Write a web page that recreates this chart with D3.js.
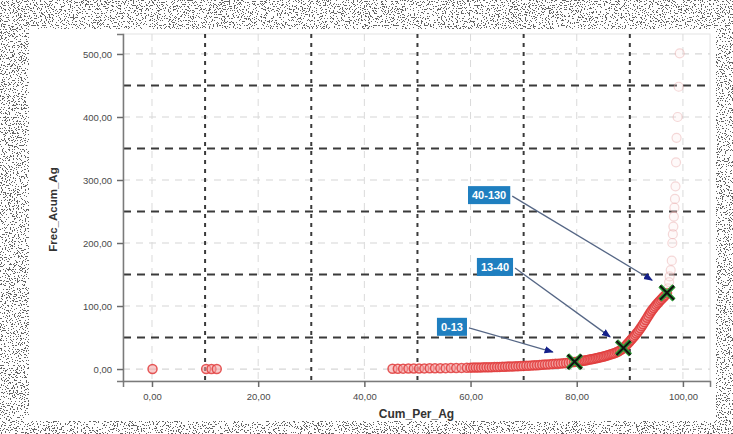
<!DOCTYPE html>
<html><head><meta charset="utf-8">
<script src="https://cdn.jsdelivr.net/npm/d3@7"></script>
<style>html,body{margin:0;padding:0;background:#fff;}svg{display:block;font-family:Arial,"Liberation Sans",sans-serif;}</style>
</head><body>
<svg id="c" width="733" height="434"></svg>
<script>
// ---- data ----
const xTicks = [0, 20, 40, 60, 80, 100];
const xMidLines = [10, 30, 50, 70, 90];
const yTicks = [0, 100, 200, 300, 400, 500];
const yMidLines = [50, 150, 250, 350, 450];
const xTitle = "Cum_Per_Ag";
const yTitle = "Frec_Acum_Ag";

// Cum_Per_Ag / Frec_Acum_Ag observations, in segments along the curve
const outlierX = [0.1, 10.2, 11.2, 12.2];
const outlierY = [0, 0, 0, 0];
const lowX = [45.3, 46.3, 47.3, 48.3, 49.3, 50.3, 51.3, 52.3, 53.3, 54.3, 55.3, 56.3, 57.3, 58.3, 59.3];
const lowY = [0.4, 0.5, 0.6, 0.7, 0.8, 0.9, 1.0, 1.1, 1.2, 1.3, 1.4, 1.5, 1.6, 1.8, 2.0];
const midX = [60.0, 60.5, 61.0, 61.5, 62.0, 62.5, 63.0, 63.5, 64.0, 64.5,
              65.0, 65.5, 66.0, 66.5, 67.0, 67.5, 68.0, 68.5, 69.0, 69.5,
              70.0, 70.5, 71.0, 71.5, 72.0, 72.5, 73.0, 73.5, 74.0, 74.5,
              75.0, 75.5, 76.0, 76.5, 77.0, 77.5, 78.0, 78.5, 79.0, 79.5];
const midY = [2.2, 2.3, 2.4, 2.5, 2.6, 2.7, 2.8, 2.9, 3.0, 3.2,
              3.3, 3.4, 3.6, 3.7, 3.9, 4.0, 4.2, 4.4, 4.6, 4.8,
              5.0, 5.2, 5.4, 5.6, 5.9, 6.1, 6.4, 6.7, 7.0, 7.3,
              7.6, 7.9, 8.2, 8.5, 8.9, 9.3, 9.7, 10.1, 10.6, 11.1];
const riseX = [80.0, 80.3, 80.6, 80.9, 81.2, 81.5, 81.8, 82.1, 82.4, 82.7,
               83.0, 83.3, 83.6, 83.9, 84.2, 84.5, 84.8, 85.1, 85.4, 85.7,
               86.0, 86.3, 86.6, 86.9, 87.2, 87.5, 87.8, 88.1, 88.4, 88.7];
const riseY = [11.6, 12.0, 12.4, 12.8, 13.2, 13.6, 14.0, 14.5, 15.0, 15.5,
               16.0, 16.5, 17.0, 17.6, 18.2, 18.8, 19.4, 20.0, 20.7, 21.4,
               22.1, 22.9, 23.7, 24.6, 25.5, 26.6, 27.8, 29.2, 30.8, 32.6];
const steepX = [89.0, 89.25, 89.5, 89.75, 90.0, 90.25, 90.5, 90.75, 91.0, 91.25,
                91.5, 91.75, 92.0, 92.25, 92.5, 92.75, 93.0, 93.25, 93.5, 93.75,
                94.0, 94.25, 94.5, 94.75, 95.0, 95.25, 95.5, 95.75, 96.0, 96.25,
                96.5, 96.75, 97.0];
const steepY = [35.0, 37.2, 39.4, 41.7, 44.0, 46.4, 48.8, 51.3, 53.8, 56.4,
                59.0, 61.8, 64.6, 67.8, 71.0, 74.4, 77.8, 81.2, 84.6, 88.0,
                91.2, 94.0, 96.8, 99.4, 102.0, 104.4, 106.8, 109.0, 111.2, 113.4,
                115.6, 118.0, 120.5];
const topX = [97.2, 97.4, 97.5, 97.7, 97.9, 98.0, 98.1, 98.2, 98.3, 98.4, 98.5, 98.6, 98.7, 98.8, 99.0, 99.2, 99.4];
const topY = [128, 138, 147, 157, 172, 200, 214, 226, 242, 256, 270, 290, 328, 367, 400, 448, 501];

const markX = [79.6, 88.8, 97.0];
const markY = [11.5, 33.5, 121.0];

const labelText = ["0-13", "13-40", "40-130"];
const labelCenterX = [56.5, 64.6, 63.5];
const labelCenterY = [67, 162, 276];
const arrowTipX = [75.5, 86.3, 94.2];
const arrowTipY = [27, 51, 141];

// ---- layout ----
const svg = d3.select("#c");
const W = 733, H = 434;
const m = {l: 123, r: 710, t: 34, b: 381};

// scanned-paper noise border
const defs = svg.append("defs");
const f = defs.append("filter").attr("id", "noise").attr("x", 0).attr("y", 0).attr("width", "100%").attr("height", "100%");
f.append("feTurbulence").attr("type", "fractalNoise").attr("baseFrequency", 0.75).attr("numOctaves", 2).attr("seed", 7).attr("result", "t");
f.append("feColorMatrix").attr("in", "t").attr("type", "matrix")
  .attr("values", "0 0 0 0 0  0 0 0 0 0  0 0 0 0 0  1 0 0 0 0").attr("result", "a");
const ct = f.append("feComponentTransfer").attr("in", "a");
ct.append("feFuncA").attr("type", "discrete").attr("tableValues", "1 1 1 1 0 0 0 0 0 0");
svg.append("rect").attr("width", W).attr("height", H).attr("fill", "#fff");
svg.append("rect").attr("width", W).attr("height", H).attr("filter", "url(#noise)").attr("opacity", 0.6);
svg.append("rect").attr("x", 29).attr("y", 29).attr("width", 687).attr("height", 392).attr("fill", "#fff");

const x = d3.scaleLinear().domain([-5.46, 105.1]).range([m.l, m.r]);
const y = d3.scaleLinear().domain([-19, 531.7]).range([m.b, m.t]);

const g = svg.append("g");
g.append("rect").attr("x", m.l).attr("y", m.t).attr("width", m.r - m.l).attr("height", m.b - m.t)
  .attr("fill", "none").attr("stroke", "#e4e4e4");

// light grid
g.selectAll(".lgy").data(yTicks).join("line")
  .attr("x1", m.l).attr("x2", m.r).attr("y1", d => y(d)).attr("y2", d => y(d))
  .attr("stroke", "#d6d6d6").attr("stroke-width", 1.2).attr("stroke-dasharray", "7,6");
g.selectAll(".lgx").data(xTicks).join("line")
  .attr("y1", m.t).attr("y2", m.b).attr("x1", d => x(d)).attr("x2", d => x(d))
  .attr("stroke", "#dadada").attr("stroke-width", 1).attr("stroke-dasharray", "7,6");

// dark dashed grid
g.selectAll(".dgy").data(yMidLines).join("line")
  .attr("x1", m.l).attr("x2", m.r).attr("y1", d => y(d)).attr("y2", d => y(d))
  .attr("stroke", "#3a3a3a").attr("stroke-width", 1.8).attr("stroke-dasharray", "8,6");
g.selectAll(".dgx").data(xMidLines).join("line")
  .attr("y1", m.t).attr("y2", m.b).attr("x1", d => x(d)).attr("x2", d => x(d))
  .attr("stroke", "#3a3a3a").attr("stroke-width", 2).attr("stroke-dasharray", "4,5");

// axes
const fmt = d => d3.format(".2f")(d).replace(".", ",");
const xAxis = d3.axisBottom(x).tickValues(xTicks).tickSize(6).tickFormat(fmt);
const yAxis = d3.axisLeft(y).tickValues(yTicks).tickSize(6).tickFormat(fmt);
const gx = svg.append("g").attr("transform", `translate(0,${m.b})`).call(xAxis);
const gy = svg.append("g").attr("transform", `translate(${m.l},0)`).call(yAxis);
[gx, gy].forEach(a => {
  a.select(".domain").attr("stroke", "#7a7a7a").attr("stroke-width", 1.5);
  a.selectAll(".tick line").attr("stroke", "#6a6a6a").attr("stroke-width", 1.5);
  a.selectAll(".tick text").attr("fill", "#4a4a4a").attr("font-size", 9.5);
});
gx.selectAll(".tick text").attr("dy", "1.05em");
gy.selectAll(".tick text").attr("dx", "-0.2em");

svg.append("text").attr("x", (m.l + m.r) / 2).attr("y", 418).attr("text-anchor", "middle")
  .attr("font-size", 12).attr("font-weight", "bold").attr("fill", "#333").text(xTitle);
svg.append("text").attr("transform", `translate(57,${(m.t + m.b) / 2 + 2}) rotate(-90)`).attr("text-anchor", "middle")
  .attr("font-size", 11.5).attr("font-weight", "bold").attr("fill", "#333").text(yTitle);

// points
const allX = [].concat(outlierX, lowX, midX, riseX, steepX, topX);
const allY = [].concat(outlierY, lowY, midY, riseY, steepY, topY);
const pts = allX.map((v, i) => ({x: v, y: allY[i]})).filter(d => d.y !== undefined);
svg.append("g").selectAll("circle").data(pts).join("circle")
  .attr("cx", d => x(d.x)).attr("cy", d => y(d.y)).attr("r", 4.5)
  .attr("fill", d => d.y > 125 ? "#fbe8e8" : "#f4a0a0").attr("fill-opacity", d => d.y > 125 ? 0.25 : 0.55)
  .attr("stroke", d => d.y > 125 ? "#e8aaaa" : "#e03c3c").attr("stroke-width", d => d.y > 125 ? 1.2 : 1.5)
  .attr("stroke-opacity", d => d.y > 125 ? 0.45 : 0.85);

// X markers
const marks = markX.map((v, i) => ({x: v, y: markY[i]}));
const mg = svg.append("g");
const xp = "M-7,-7L7,7M-7,7L7,-7";
mg.selectAll(".mo").data(marks).join("path").attr("d", xp)
  .attr("transform", d => `translate(${x(d.x)},${y(d.y)})`)
  .attr("stroke", "#2e9a35").attr("stroke-width", 4.5).attr("fill", "none");
mg.selectAll(".mi").data(marks).join("path").attr("d", xp)
  .attr("transform", d => `translate(${x(d.x)},${y(d.y)})`)
  .attr("stroke", "#111").attr("stroke-width", 2).attr("fill", "none");

// annotations
defs.append("marker").attr("id", "ah").attr("viewBox", "0 0 10 10").attr("refX", 9).attr("refY", 5)
  .attr("markerWidth", 7).attr("markerHeight", 7).attr("orient", "auto")
  .append("path").attr("d", "M0,1L10,5L0,9Z").attr("fill", "#14208a");
const ann = labelText.map((t, i) => ({t, cx: labelCenterX[i], cy: labelCenterY[i], tx: arrowTipX[i], ty: arrowTipY[i]}));
const ag = svg.append("g");
ann.forEach(a => {
  const cx = x(a.cx), cy = y(a.cy);
  const txt = ag.append("text").attr("x", cx).attr("y", cy).attr("text-anchor", "middle")
    .attr("dominant-baseline", "central").attr("font-size", 11).attr("font-weight", "bold")
    .attr("fill", "#fff").text(a.t);
  const bb = txt.node().getBBox();
  ag.insert("rect", "text").attr("x", bb.x - 4).attr("y", cy - 9).attr("width", bb.width + 8).attr("height", 18)
    .attr("fill", "#1f7fc0");
  ag.append("line").attr("x1", bb.x + bb.width + 6).attr("y1", cy + 1).attr("x2", x(a.tx)).attr("y2", y(a.ty))
    .attr("stroke", "#556685").attr("stroke-width", 1.3).attr("marker-end", "url(#ah)");
});
</script>
</body></html>
